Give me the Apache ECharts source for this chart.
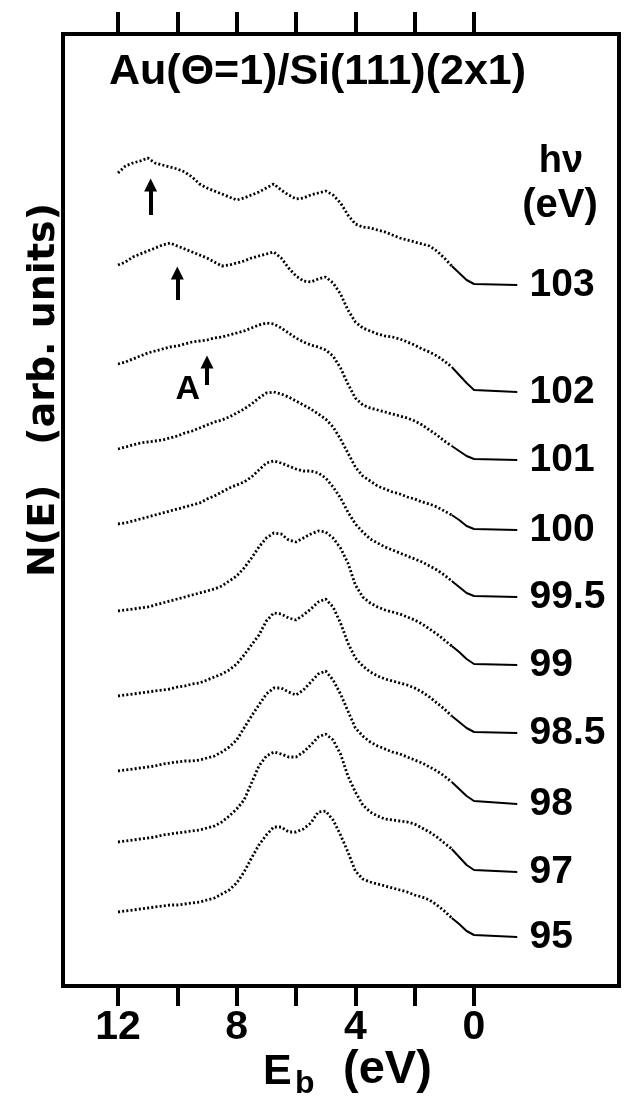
<!DOCTYPE html>
<html>
<head>
<meta charset="utf-8" />
<title>Au(Θ=1)/Si(111)(2x1) N(E)</title>
<script src="https://cdn.jsdelivr.net/npm/echarts@6/dist/echarts.min.js"></script>
<style>
	html, body { margin: 0; padding: 0; background: #fff; }
	#main { width: 624px; height: 1097px; }
</style>
</head>
<body>
<div id="main"></div>
<script type="text/javascript">
	// binding energy grid (eV)
	var eb = [12, 11.75, 11.5, 11.25, 11, 10.75, 10.5, 10.25, 10, 9.75,
		9.5, 9.25, 9, 8.75, 8.5, 8.25, 8, 7.75, 7.5, 7.25,
		7, 6.75, 6.5, 6.25, 6, 5.75, 5.5, 5.25, 5, 4.75,
		4.5, 4.25, 4, 3.75, 3.5, 3.25, 3, 2.75, 2.5, 2.25,
		2, 1.75, 1.5, 1.25, 1, 0.75, 0.5, 0.25, 0];
	var tailEnd = -1.45;   // end of the flat part of every spectrum

	// photon energies (eV), top to bottom
	var photonEnergy = ['103', '102', '101', '100', '99.5', '99', '98.5', '98', '97', '95'];
	// vertical offset of each spectrum (arb. units)
	var baseline = [701, 594, 526, 456, 389, 321, 253, 182, 114, 49];

	// N(E) above baseline, arb. units
	var n103 = [112,119,122,124,127,122,120,118,116,113,108,101,97,94,91,88,85,87,90,93,97,101,95,90,86,87,90,92,94,90,82,70,61,58,57,55,53,50,47,45,43,41,39,34,27,19,12,5,1];
	var n102 = [127,130,135,138,141,144,147,149,146,143,140,137,134,130,126,127,129,131,134,136,138,140,134,124,116,111,110,113,115,109,98,82,70,64,61,58,56,55,53,50,47,43,40,36,31,25,17,9,2];
	var n101 = [96,98,101,104,107,109,111,113,114,116,118,119,120,122,123,125,127,129,132,135,137,136,132,127,122,118,115,113,110,104,92,76,62,55,52,50,48,46,44,42,39,35,30,25,19,14,9,4,1];
	var n100 = [81,83,85,87,88,89,90,92,94,97,99,102,105,108,110,113,117,121,126,132,137,138,136,133,129,125,121,116,111,103,91,77,63,54,49,44,41,38,36,33,31,28,26,23,19,15,10,4,1];
	var n995 = [73,74,76,78,80,82,84,86,88,90,92,94,98,101,105,109,112,115,120,127,134,136,134,131,128,126,126,124,119,110,99,85,73,65,58,54,50,47,44,41,38,35,31,27,22,16,10,4,1];
	var n99 = [54,55,56,57,58,60,62,64,66,68,70,72,74,76,79,84,89,97,107,118,127,132,131,125,123,127,131,134,133,127,117,102,80,68,62,58,55,53,51,48,45,41,36,31,25,19,13,6,1];
	var n985 = [37,38,39,40,41,42,43,44,46,47,49,50,53,56,59,63,69,78,88,98,112,120,119,115,113,118,124,131,134,126,110,90,75,67,61,57,54,52,50,48,45,41,36,30,24,17,11,5,1];
	var n98 = [33,34,35,36,37,38,40,41,42,43,43,44,46,48,52,57,64,76,88,99,110,116,116,112,109,114,122,130,133,124,110,93,76,68,62,58,55,52,50,47,44,41,37,33,28,22,15,8,3];
	var n97 = [30,31,32,33,34,35,37,38,39,40,41,42,44,46,50,56,63,72,89,106,116,120,118,115,115,120,127,135,138,132,118,96,80,67,60,56,53,52,51,50,48,44,40,35,29,23,15,7,2];
	var n95 = [25,26,27,28,29,30,31,32,32,33,34,35,37,39,43,47,54,65,79,92,102,110,110,105,105,108,114,125,126,117,102,85,66,58,55,53,51,49,47,45,42,40,37,32,26,19,13,6,2];

	// arrows: [Eb, from, to]
	var arrows = [[10.9, 771, 801], [10.0, 686, 713], [9.0, 601, 624]];
	var peakA = [9.65, 596];

	var curves = [n103, n102, n101, n100, n995, n99, n985, n98, n97, n95];
	var FONT = '"Liberation Sans", Arial, sans-serif';

	var myCharts = echarts.init(document.getElementById('main'));
	var series = [];
	for (var i = 0; i < curves.length; i++) {
		var pts = [];
		for (var j = 0; j < eb.length; j++) {
			pts.push([eb[j], baseline[i] + curves[i][j]]);
		}
		// noisy measured part, drawn dotted
		series.push({
			type: 'line', data: pts.slice(0, 46), symbol: 'none', silent: true,
			lineStyle: { color: '#000', width: 2.8, type: [2, 2.2] }
		});
		// low-energy end, drawn solid and run out flat to the label
		series.push({
			type: 'line', data: pts.slice(45).concat([[tailEnd, baseline[i]]]), symbol: 'none', silent: true,
			lineStyle: { color: '#000', width: 2 }
		});
	}
	// hv labels at the end of every spectrum
	var labelData = [];
	for (var k = 0; k < photonEnergy.length; k++) {
		labelData.push([tailEnd, baseline[k], photonEnergy[k]]);
	}
	series.push({
		type: 'scatter', data: labelData, symbolSize: 1, silent: true,
		itemStyle: { color: '#000', opacity: 1 },
		label: {
			show: true, position: 'right', distance: 12,
			formatter: function (p) { return p.value[2]; },
			color: '#000', opacity: 1, fontSize: 39, fontWeight: 'bold', fontFamily: FONT
		}
	});
	// arrows marking feature A
	series.push({
		type: 'lines', coordinateSystem: 'cartesian2d', silent: true,
		symbol: ['none', 'triangle'], symbolSize: 13,
		lineStyle: { color: '#000', width: 4, opacity: 1, curveness: 0 },
		data: arrows.map(function (a) { return { coords: [[a[0], a[1]], [a[0], a[2]]] }; })
	});
	series.push({
		type: 'scatter', data: [peakA], symbolSize: 1, silent: true,
		itemStyle: { color: '#000', opacity: 1 },
		label: { show: true, position: 'inside', formatter: 'A', color: '#000', opacity: 1, fontSize: 34, fontWeight: 'bold', fontFamily: FONT }
	});

	var xCommon = {
		type: 'value', inverse: true, min: -4.887, max: 13.854,
		splitLine: { show: false },
		axisLine: { show: true, onZero: false, lineStyle: { color: '#000', width: 4 } }
	};

	var option = {
		animation: false,
		backgroundColor: '#fff',
		title: {
			text: 'Au(Θ=1)/Si(111)(2x1)', left: 104, top: 46,
			textStyle: { color: '#000', fontSize: 43, fontWeight: 'bold', fontFamily: FONT }
		},
		grid: { left: 63, right: 5, top: 34, bottom: 111, show: true, borderColor: '#000', borderWidth: 4 },
		xAxis: [
			Object.assign({}, xCommon, {
				position: 'bottom',
				axisTick: { show: true, customValues: [12, 10, 8, 6, 4, 2, 0], length: 20, lineStyle: { color: '#000', width: 4 } },
				axisLabel: { show: true, customValues: [12, 8, 4, 0], margin: 21, color: '#000', fontSize: 41, fontWeight: 'bold', fontFamily: FONT }
			}),
			Object.assign({}, xCommon, {
				position: 'top',
				axisTick: { show: true, customValues: [12, 10, 8, 6, 4, 2, 0], length: 22, lineStyle: { color: '#000', width: 4 } },
				axisLabel: { show: false }
			})
		],
		yAxis: { type: 'value', min: 0, max: 952, show: false },
		graphic: [
			{ type: 'text', x: 44, y: 390, rotation: Math.PI / 2,
				style: { text: 'N(E)   (arb. units)', fill: '#000', font: 'bold 38px "DejaVu Sans"', align: 'center', verticalAlign: 'middle', textAlign: 'center', textVerticalAlign: 'middle' } },
			{ type: 'text', x: 561, y: 162,
				style: { text: 'hν', fill: '#000', font: 'bold 38px "Liberation Sans"', align: 'center', verticalAlign: 'middle', textAlign: 'center', textVerticalAlign: 'middle' } },
			{ type: 'text', x: 560, y: 206,
				style: { text: '(eV)', fill: '#000', font: 'bold 40px "Liberation Sans"', align: 'center', verticalAlign: 'middle', textAlign: 'center', textVerticalAlign: 'middle' } },
			{ type: 'text', x: 263, y: 1072,
				style: { text: 'E', fill: '#000', font: 'bold 43px "Liberation Sans"', align: 'left', verticalAlign: 'middle', textAlign: 'left', textVerticalAlign: 'middle' } },
			{ type: 'text', x: 295, y: 1084,
				style: { text: 'b', fill: '#000', font: 'bold 32px "Liberation Sans"', align: 'left', verticalAlign: 'middle', textAlign: 'left', textVerticalAlign: 'middle' } },
			{ type: 'text', x: 343, y: 1070,
				style: { text: '(eV)', fill: '#000', font: 'bold 47px "Liberation Sans"', align: 'left', verticalAlign: 'middle', textAlign: 'left', textVerticalAlign: 'middle' } }
		],
		series: series
	};
	myCharts.setOption(option);
</script>
</body>
</html>
